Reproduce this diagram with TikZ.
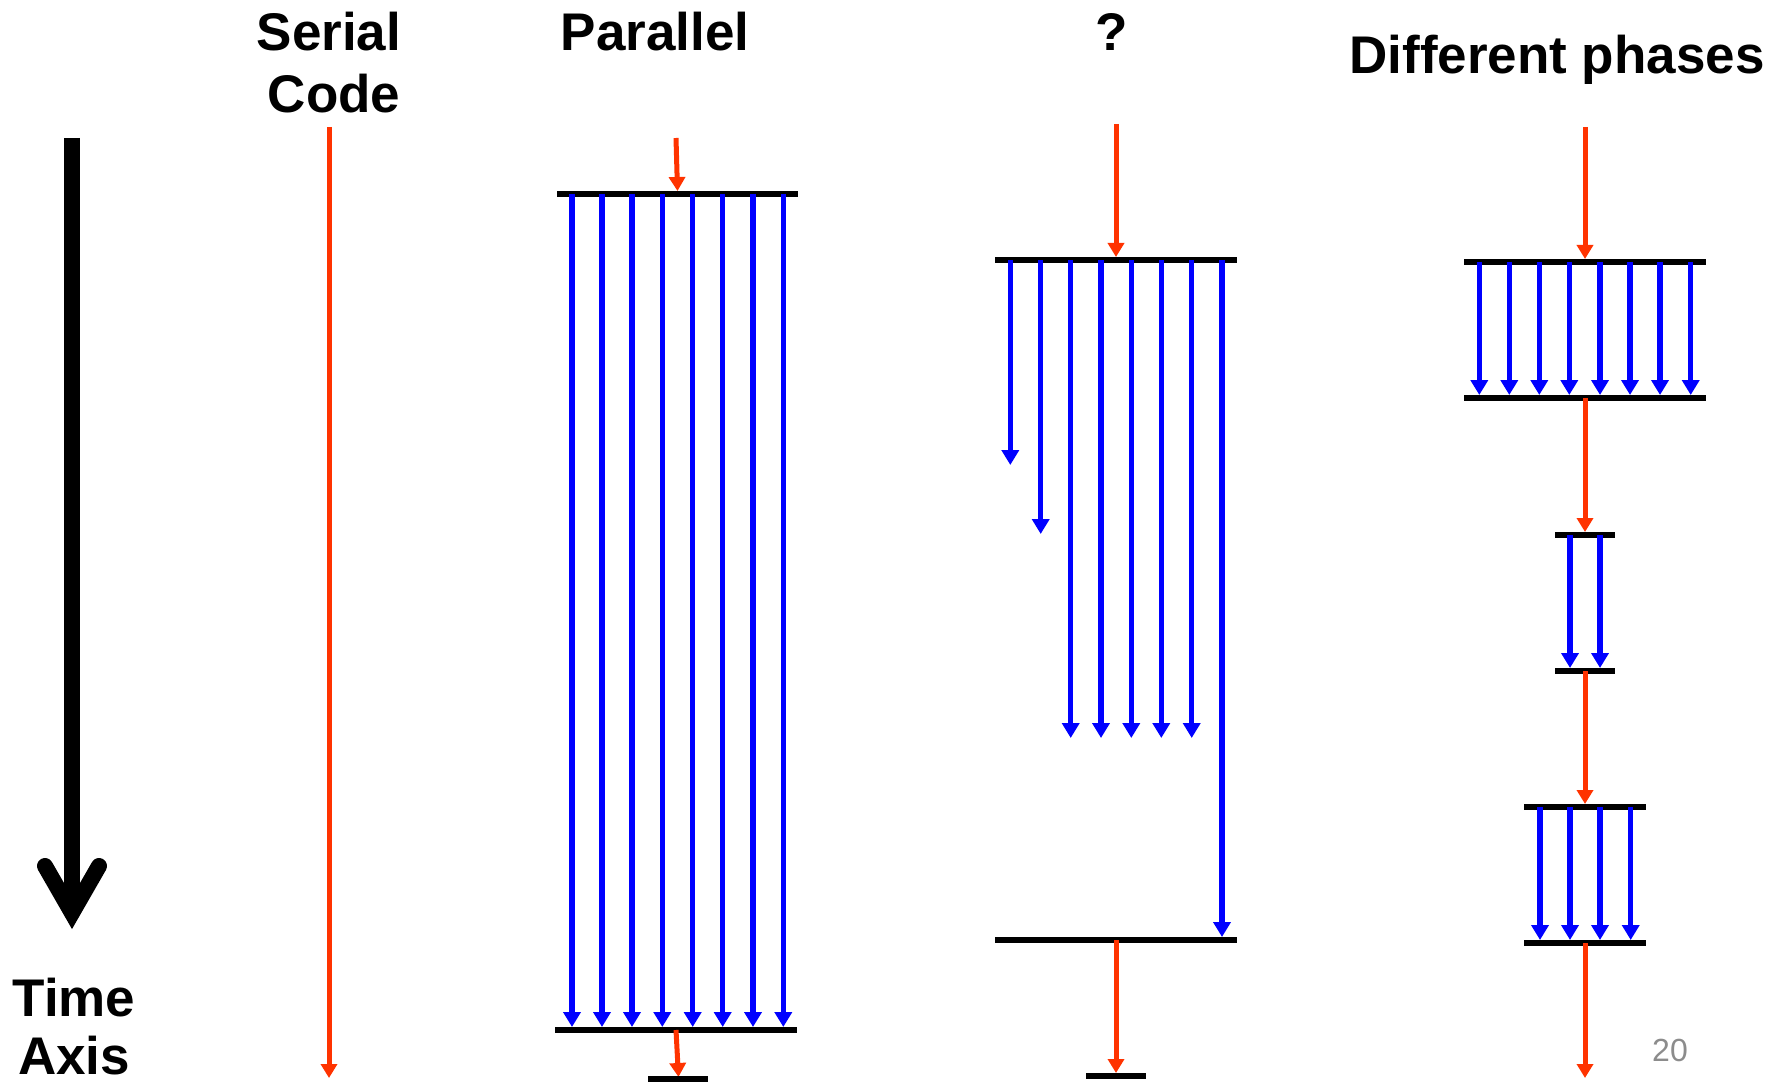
\documentclass[tikz,border=0pt]{standalone}
\usepackage{fontspec}
\setmainfont{Liberation Sans}
\usetikzlibrary{arrows.meta}
\definecolor{redser}{HTML}{FF3300}
\definecolor{bluepar}{HTML}{0000FF}
\definecolor{pnum}{HTML}{8C8C8C}
\tikzset{
  serialarrow/.style={draw=redser, line width=5pt, -{Triangle[width=16pt,length=14pt]}},
  threadarrow/.style={draw=bluepar, line width=5.5pt, -{Triangle[width=17pt,length=15pt]}},
  barrier/.style={draw=black, line width=6pt},
  title/.style={font=\fontsize{53}{60}\selectfont\bfseries, anchor=base, inner sep=0pt},
}
\begin{document}
\begin{tikzpicture}[x=1pt,y=-1pt]
\useasboundingbox (0,0) rectangle (1779,1083);
% titles
\node[title] (tserial) at (329,51) {Serial};
\node[title] (tcode) at (334,113) {Code};
\node[title] (tpar) at (655,51) {Parallel};
\node[title] (tq) at (1112,51) {?};
\node[title] (tdiff) at (1557,74) {Different phases};
\node[title] (ttime) at (74,1016) {Time};
\node[title] (taxis) at (74,1074) {Axis};
\node[font=\fontsize{32}{36}\selectfont, text=pnum, anchor=base, inner sep=0pt] (pg) at (1670,1061) {20};
% time axis
\coordinate (ax0) at (72,138);
\coordinate (ax1) at (72,913);
\coordinate (axl) at (45,866);
\coordinate (axr) at (99,866);
\draw[line width=16pt] (ax0) -- (ax1);
\draw[line width=16pt, line cap=round, line join=miter] (axl) -- (ax1) -- (axr);
% serial
\coordinate (s0) at (329,127);
\coordinate (s1) at (329,1078);
\draw[serialarrow] (s0) -- (s1);
% parallel
\coordinate (p0) at (676,138);
\coordinate (ptl) at (557,194);
\coordinate (ptr) at (798,194);
\coordinate (ptm) at (677.5,191);
\coordinate (pbl) at (555,1030);
\coordinate (pbr) at (797,1030);
\coordinate (pbm) at (676,1030);
\coordinate (pend) at (678.5,1077);
\coordinate (pel) at (648,1079);
\coordinate (per) at (708,1079);
\draw[serialarrow] (p0) -- (ptm);
\draw[barrier] (ptl) -- (ptr);
\draw[barrier] (pbl) -- (pbr);
\foreach \x [count=\i] in {572,602,632,662.3,692.7,722.7,753,783.3} {
  \coordinate (pa\i) at (\x,194);
  \coordinate (pb\i) at (\x,1027);
  \draw[threadarrow] (pa\i) -- (pb\i);
}
\draw[serialarrow] (pbm) -- (pend);
\draw[barrier] (pel) -- (per);
% question
\coordinate (q0) at (1116,124);
\coordinate (qtm) at (1116,257);
\coordinate (qtl) at (995,260);
\coordinate (qtr) at (1237,260);
\coordinate (qbl) at (995,940);
\coordinate (qbr) at (1237,940);
\coordinate (qbm) at (1116,940);
\coordinate (qend) at (1116,1073);
\coordinate (qel) at (1086,1076);
\coordinate (qer) at (1146,1076);
\draw[serialarrow] (q0) -- (qtm);
\draw[barrier] (qtl) -- (qtr);
\foreach \x/\e [count=\i] in {1010.3/465,1040.7/534,1070.7/738,1101/738,1131.3/738,1161.3/738,1191.7/738,1222/937} {
  \coordinate (qa\i) at (\x,260);
  \coordinate (qb\i) at (\x,\e);
  \draw[threadarrow] (qa\i) -- (qb\i);
}
\draw[barrier] (qbl) -- (qbr);
\draw[serialarrow] (qbm) -- (qend);
\draw[barrier] (qel) -- (qer);
% different phases
\coordinate (d0) at (1585,127);
\coordinate (d1t) at (1585,259);
\coordinate (d1l) at (1464,262);
\coordinate (d1r) at (1706,262);
\coordinate (d1bl) at (1464,398);
\coordinate (d1br) at (1706,398);
\coordinate (d1bm) at (1585,398);
\coordinate (d2t) at (1585,532);
\coordinate (d2l) at (1555,535);
\coordinate (d2r) at (1615,535);
\coordinate (d2bl) at (1555,671);
\coordinate (d2br) at (1615,671);
\coordinate (d2bm) at (1585,671);
\coordinate (d3t) at (1585,804);
\coordinate (d3l) at (1524,807);
\coordinate (d3r) at (1646,807);
\coordinate (d3bl) at (1524,943);
\coordinate (d3br) at (1646,943);
\coordinate (d3bm) at (1585,943);
\coordinate (dend) at (1585,1078);
\draw[serialarrow] (d0) -- (d1t);
\draw[barrier] (d1l) -- (d1r);
\foreach \x [count=\i] in {1479.3,1509.3,1539.3,1569.3,1600,1630,1660,1690.7} {
  \coordinate (da\i) at (\x,262);
  \coordinate (db\i) at (\x,395);
  \draw[threadarrow] (da\i) -- (db\i);
}
\draw[barrier] (d1bl) -- (d1br);
\draw[serialarrow] (d1bm) -- (d2t);
\draw[barrier] (d2l) -- (d2r);
\foreach \x [count=\i] in {1570,1600} {
  \coordinate (ea\i) at (\x,535);
  \coordinate (eb\i) at (\x,668);
  \draw[threadarrow] (ea\i) -- (eb\i);
}
\draw[barrier] (d2bl) -- (d2br);
\draw[serialarrow] (d2bm) -- (d3t);
\draw[barrier] (d3l) -- (d3r);
\foreach \x [count=\i] in {1540,1570,1600,1630.7} {
  \coordinate (fa\i) at (\x,807);
  \coordinate (fb\i) at (\x,940);
  \draw[threadarrow] (fa\i) -- (fb\i);
}
\draw[barrier] (d3bl) -- (d3br);
\draw[serialarrow] (d3bm) -- (dend);
\end{tikzpicture}
\end{document}
